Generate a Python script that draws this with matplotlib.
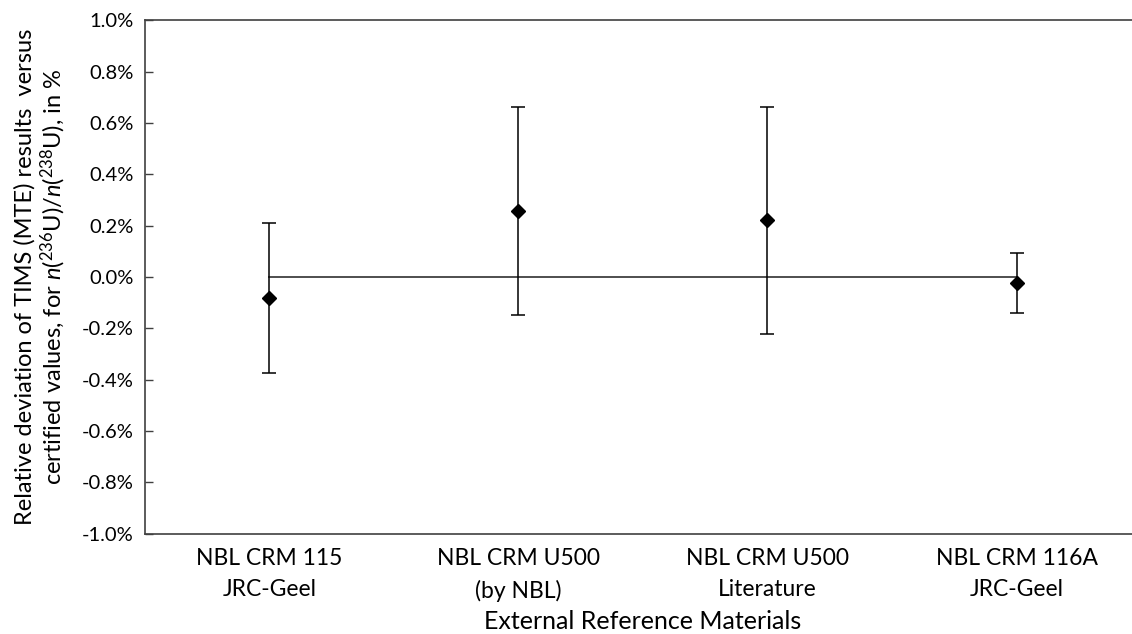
import numpy as np
import matplotlib
matplotlib.use('Agg')
import matplotlib.pyplot as plt
from matplotlib.ticker import FuncFormatter, MultipleLocator

# 데이터 (그림에서 읽은 값, 단위 %)
categories = ['NBL CRM 115\nJRC-Geel', 'NBL CRM U500\n(by NBL)',
              'NBL CRM U500\nLiterature', 'NBL CRM 116A\nJRC-Geel']
deviation = [-0.081, 0.256, 0.221, -0.023]
uncertainty = [0.292, 0.405, 0.443, 0.117]
reference = [0.0, 0.0, 0.0, 0.0]

plt.rcParams['font.family'] = ['Lato', 'DejaVu Sans']
plt.rcParams['mathtext.fontset'] = 'custom'
plt.rcParams['mathtext.rm'] = 'Lato'
plt.rcParams['mathtext.it'] = 'Lato:italic'

fig = plt.figure(figsize=(11.32, 6.34), dpi=100)
ax = fig.add_axes([0.128, 0.158, 0.88, 0.81])

x = np.arange(1, len(categories) + 1)

# 기준선 (0%)
ax.plot(x, reference, color='#404040', linewidth=1.3, zorder=1)

# 측정값과 불확도
ax.errorbar(x, deviation, yerr=uncertainty, fmt='D', color='black',
            markersize=7, ecolor='black', elinewidth=1.1, capsize=5,
            capthick=1.1, zorder=3)

ax.set_xlim(0.5, 4.5)
ax.set_ylim(-1.0, 1.0)
ax.yaxis.set_major_locator(MultipleLocator(0.2))
ax.yaxis.set_major_formatter(FuncFormatter(lambda v, p: f'{v:.1f}%'))
ax.set_xticks(x)
ax.set_xticklabels(categories, fontsize=16.5, linespacing=1.6)
ax.tick_params(axis='x', length=0, pad=10)
ax.tick_params(axis='y', direction='in', length=6, width=1, labelsize=14.5,
               pad=8, color='#404040')

for side in ['left', 'bottom', 'top']:
    ax.spines[side].set_color('#404040')
    ax.spines[side].set_linewidth(1.2)
ax.spines['right'].set_visible(False)

ax.set_xlabel('External Reference Materials', fontsize=18, labelpad=6)
ax.set_ylabel('Relative deviation of TIMS (MTE) results  versus\n'
              r'certified values, for $\mathit{n}$($^{236}$U)/$\mathit{n}$($^{238}$U), in %',
              fontsize=17, labelpad=10, linespacing=1.15)

plt.savefig('out.png', dpi=100)
